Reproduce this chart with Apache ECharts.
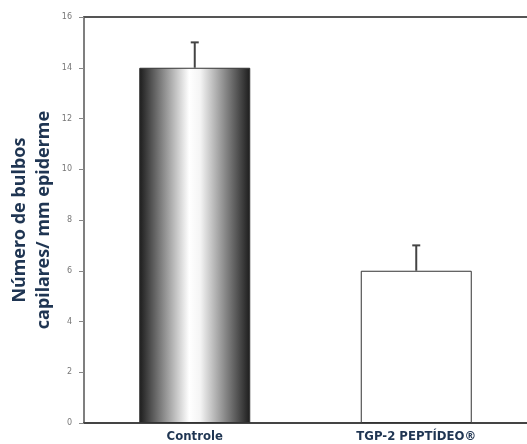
<!DOCTYPE html>
<html>
<head>
<meta charset="utf-8">
<script src="https://cdn.jsdelivr.net/npm/echarts@6/dist/echarts.min.js"></script>
<style>
  html, body { margin: 0; padding: 0; background: #fff; }
  #chart { width: 527px; height: 444px; }
</style>
</head>
<body>
<div id="chart"></div>
<script>
// dados
var categorias = ['Controle', 'TGP-2 PEPTÍDEO®'];
var valores = [14, 6];
var erros = [1, 1];
var yTicks = [0, 2, 4, 6, 8, 10, 12, 14, 16];

var chartDom = document.getElementById('chart');
var myChart = echarts.init(chartDom);

// gradiente da barra controle
var gradiente = new echarts.graphic.LinearGradient(0, 0, 1, 0, [
  { offset: 0, color: '#1c1c1c' },
  { offset: 0.45, color: '#ffffff' },
  { offset: 0.55, color: '#f4f4f4' },
  { offset: 1, color: '#1c1c1c' }
]);

var dadosBarras = valores.map(function (v, i) {
  return {
    value: v,
    itemStyle: i === 0 ? { color: gradiente } : { color: '#ffffff' }
  };
});

var dadosErro = valores.map(function (v, i) {
  return [i, v, v + erros[i]];
});

var rotulos = {
  color: '#1f3552',
  fontFamily: 'Liberation Sans Narrow, DejaVu Sans Condensed, sans-serif',
  fontWeight: 'bold',
  fontSize: 13
};

var option = {
  animation: false,
  grid: { left: 84, right: 0, top: 17, bottom: 21, containLabel: false, outerBoundsMode: 'none' },
  xAxis: [
    {
      type: 'category',
      data: categorias,
      axisLine: { lineStyle: { color: '#444', width: 2 } },
      axisTick: { show: false },
      axisLabel: Object.assign({ margin: 7 }, rotulos)
    },
    {
      // linha superior do quadro
      type: 'category',
      data: categorias,
      position: 'top',
      axisLine: { lineStyle: { color: '#555', width: 2 } },
      axisTick: { show: false },
      axisLabel: { show: false }
    }
  ],
  yAxis: {
    type: 'value',
    min: yTicks[0],
    max: yTicks[yTicks.length - 1],
    interval: 2,
    name: 'Número de bulbos\ncapilares/ mm epiderme',
    nameLocation: 'middle',
    nameGap: 28,
    nameMoveOverlap: false,
    nameTextStyle: {
      color: '#1f3552',
      fontFamily: 'Noto Sans, sans-serif',
      fontWeight: 'bold',
      fontSize: 18,
      lineHeight: 24
    },
    splitLine: { show: false },
    axisLine: { show: true, lineStyle: { color: '#555', width: 1.5 } },
    axisTick: { show: true, length: 5, lineStyle: { color: '#888' } },
    axisLabel: {
      margin: 12,
      color: '#777',
      fontSize: 8,
      fontFamily: 'DejaVu Sans, sans-serif'
    }
  },
  series: [
    {
      type: 'bar',
      data: dadosBarras,
      barWidth: 111,
      itemStyle: { borderColor: '#333', borderWidth: 1 },
      z: 2
    },
    {
      type: 'custom',
      data: dadosErro,
      z: 3,
      renderItem: function (params, api) {
        var base = api.coord([api.value(0), api.value(1)]);
        var topo = api.coord([api.value(0), api.value(2)]);
        var w = 4;
        return {
          type: 'group',
          children: [
            {
              type: 'line',
              shape: { x1: base[0], y1: base[1], x2: topo[0], y2: topo[1] },
              style: { stroke: '#444', lineWidth: 2 }
            },
            {
              type: 'line',
              shape: { x1: topo[0] - w, y1: topo[1], x2: topo[0] + w, y2: topo[1] },
              style: { stroke: '#444', lineWidth: 2 }
            }
          ]
        };
      }
    }
  ]
};

myChart.setOption(option);
</script>
</body>
</html>
